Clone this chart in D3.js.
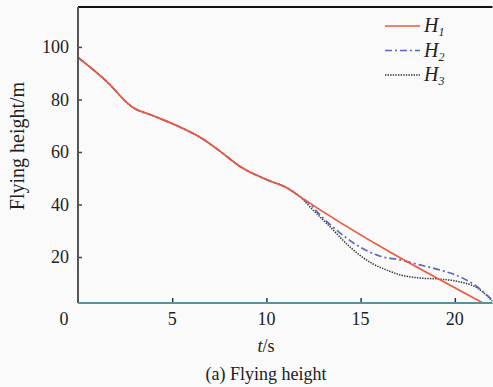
<!DOCTYPE html>
<html>
<head>
<meta charset="utf-8">
<script src="https://cdn.jsdelivr.net/npm/d3@7"></script>
<style>
  body { margin: 0; background: #fafafa; }
  svg { display: block; }
</style>
</head>
<body>
<div id="chart"></div>
<script>
// Flying height chart

// shared part of the trajectory (all three curves)
const tCommon = [0, 1.5, 2.9, 4.0, 5.4, 6.5, 7.5, 8.6, 10.0, 11.1, 11.8];
const hCommon = [96, 87, 77, 73.8, 69.5, 65.5, 60.5, 54.5, 49.5, 46.3, 42.9];

// tails after the curves split
const tH1 = [11.8, 21.5];
const hH1 = [42.9, 2.5];
const tH2 = [12.3, 12.85, 13.9, 14.97, 16.0, 17.1, 18.15, 19.2, 20.3, 21.2, 22.0];
const hH2 = [40.2, 36.0, 29.2, 23.8, 20.4, 18.9, 17.0, 15.1, 12.4, 8.6, 3.5];
const tH3 = [12.31, 13.38, 14.44, 15.5, 16.4, 17.1, 18.15, 19.2, 20.3, 21.2, 22.0];
const hH3 = [39.1, 31.5, 23.8, 18.0, 15.0, 13.2, 12.0, 11.6, 10.5, 8.2, 3.2];

const xTicks = [5, 10, 15, 20];
const yTicks = [20, 40, 60, 80, 100];
const seriesNames = ["1", "2", "3"];

const svgWidth = 493;
const svgHeight = 387;
const margin = { top: 7, right: 0.5, bottom: 84, left: 78 };
const width = svgWidth - margin.left - margin.right;
const height = svgHeight - margin.top - margin.bottom;
const serif = '"Liberation Serif"';

const svg = d3.select("#chart")
    .append("svg")
    .attr("width", svgWidth)
    .attr("height", svgHeight);

svg.append("rect")
    .attr("width", svgWidth)
    .attr("height", svgHeight)
    .attr("fill", "#fafafa");

const chartGroup = svg.append("g")
    .attr("transform", `translate(${margin.left}, ${margin.top})`);

const xScale = d3.scaleLinear().domain([0, 22]).range([0, width]);
const yScale = d3.scaleLinear().domain([2.5, 115.2]).range([height, 0]);

// clip so the tails stop at the frame
chartGroup.append("clipPath")
    .attr("id", "plotClip")
    .append("rect")
    .attr("width", width)
    .attr("height", height);

// build point lists: common part + own tail
function makePoints(tTail, hTail) {
    const pts = tCommon.map((t, i) => [t, hCommon[i]]);
    tTail.forEach((t, i) => {
        if (t > pts[pts.length - 1][0]) pts.push([t, hTail[i]]);
    });
    return pts;
}

const series = [
    { pts: makePoints(tH1, hH1), color: "#f0583a", dash: null, width: 1.7 },
    { pts: makePoints(tH2, hH2), color: "#5a68c4", dash: "7,3,2,3", width: 1.7 },
    { pts: makePoints(tH3, hH3), color: "#333333", dash: "1.4,1.2", width: 1.5 }
];

const line = d3.line()
    .x(d => xScale(d[0]))
    .y(d => yScale(d[1]))
    .curve(d3.curveMonotoneX);

const linesGroup = chartGroup.append("g").attr("clip-path", "url(#plotClip)");

// draw H3 first, then H2, then H1 on top
[2, 1, 0].forEach(i => {
    const s = series[i];
    linesGroup.append("path")
        .datum(s.pts)
        .attr("d", line)
        .attr("fill", "none")
        .attr("stroke", s.color)
        .attr("stroke-width", s.width)
        .attr("stroke-dasharray", s.dash);
});

// axes with inward ticks
const bottomAxis = d3.axisTop(xScale).tickValues(xTicks).tickSize(5).tickFormat("");
const leftAxis = d3.axisRight(yScale).tickValues(yTicks).tickSize(4).tickFormat("");

const xAxis = chartGroup.append("g")
    .attr("transform", `translate(0, ${height})`)
    .call(bottomAxis);
xAxis.select(".domain").remove();
xAxis.selectAll("line").attr("stroke", "#333").attr("stroke-width", 1.5);

const yAxis = chartGroup.append("g").call(leftAxis);
yAxis.select(".domain").remove();
yAxis.selectAll("line").attr("stroke", "#444").attr("stroke-width", 1.5);

// frame lines
chartGroup.append("line")
    .attr("x1", 0).attr("x2", width)
    .attr("y1", 0).attr("y2", 0)
    .attr("stroke", "#111").attr("stroke-width", 2);

chartGroup.append("line")
    .attr("x1", 0).attr("x2", 0)
    .attr("y1", 0).attr("y2", height)
    .attr("stroke", "#555").attr("stroke-width", 2);

chartGroup.append("line")
    .attr("x1", 0).attr("x2", width)
    .attr("y1", height).attr("y2", height)
    .attr("stroke", "#5b9298").attr("stroke-width", 2);

// tick labels
chartGroup.selectAll(".xlab")
    .data(xTicks)
    .enter()
    .append("text")
    .attr("x", d => xScale(d))
    .attr("y", height + 22)
    .attr("text-anchor", "middle")
    .attr("font-family", serif)
    .attr("font-size", 18)
    .attr("fill", "#222")
    .text(d => d);

chartGroup.append("text")
    .attr("x", -14)
    .attr("y", height + 22)
    .attr("text-anchor", "middle")
    .attr("font-family", serif)
    .attr("font-size", 18)
    .attr("fill", "#222")
    .text("0");

chartGroup.selectAll(".ylab")
    .data(yTicks)
    .enter()
    .append("text")
    .attr("x", -9)
    .attr("y", d => yScale(d))
    .attr("dy", "0.35em")
    .attr("text-anchor", "end")
    .attr("font-family", serif)
    .attr("font-size", 18)
    .attr("fill", "#222")
    .text(d => d);

// axis titles
const xTitle = svg.append("text")
    .attr("x", 266)
    .attr("y", 352)
    .attr("text-anchor", "middle")
    .attr("font-family", serif)
    .attr("font-size", 18)
    .attr("fill", "#222");
xTitle.append("tspan").attr("font-style", "italic").text("t");
xTitle.append("tspan").text("/s");

svg.append("text")
    .attr("transform", "translate(24, 146) rotate(-90)")
    .attr("text-anchor", "middle")
    .attr("font-family", serif)
    .attr("font-size", 20)
    .attr("fill", "#222")
    .text("Flying height/m");

svg.append("text")
    .attr("x", 266)
    .attr("y", 380)
    .attr("text-anchor", "middle")
    .attr("font-family", serif)
    .attr("font-size", 18)
    .attr("fill", "#222")
    .text("(a) Flying height");

// legend
const legend = svg.append("g");
series.forEach((s, i) => {
    const ly = 26 + i * 24.5;
    legend.append("line")
        .attr("x1", 385).attr("x2", 420)
        .attr("y1", ly).attr("y2", ly)
        .attr("stroke", s.color)
        .attr("stroke-width", s.width)
        .attr("stroke-dasharray", s.dash);
    const lt = legend.append("text")
        .attr("x", 424)
        .attr("y", ly + 6)
        .attr("font-family", serif)
        .attr("font-size", 20)
        .attr("font-style", "italic")
        .attr("fill", "#222");
    lt.append("tspan").text("H");
    lt.append("tspan")
        .attr("font-size", 12)
        .attr("dy", 4)
        .text(seriesNames[i]);
});
</script>
</body>
</html>
